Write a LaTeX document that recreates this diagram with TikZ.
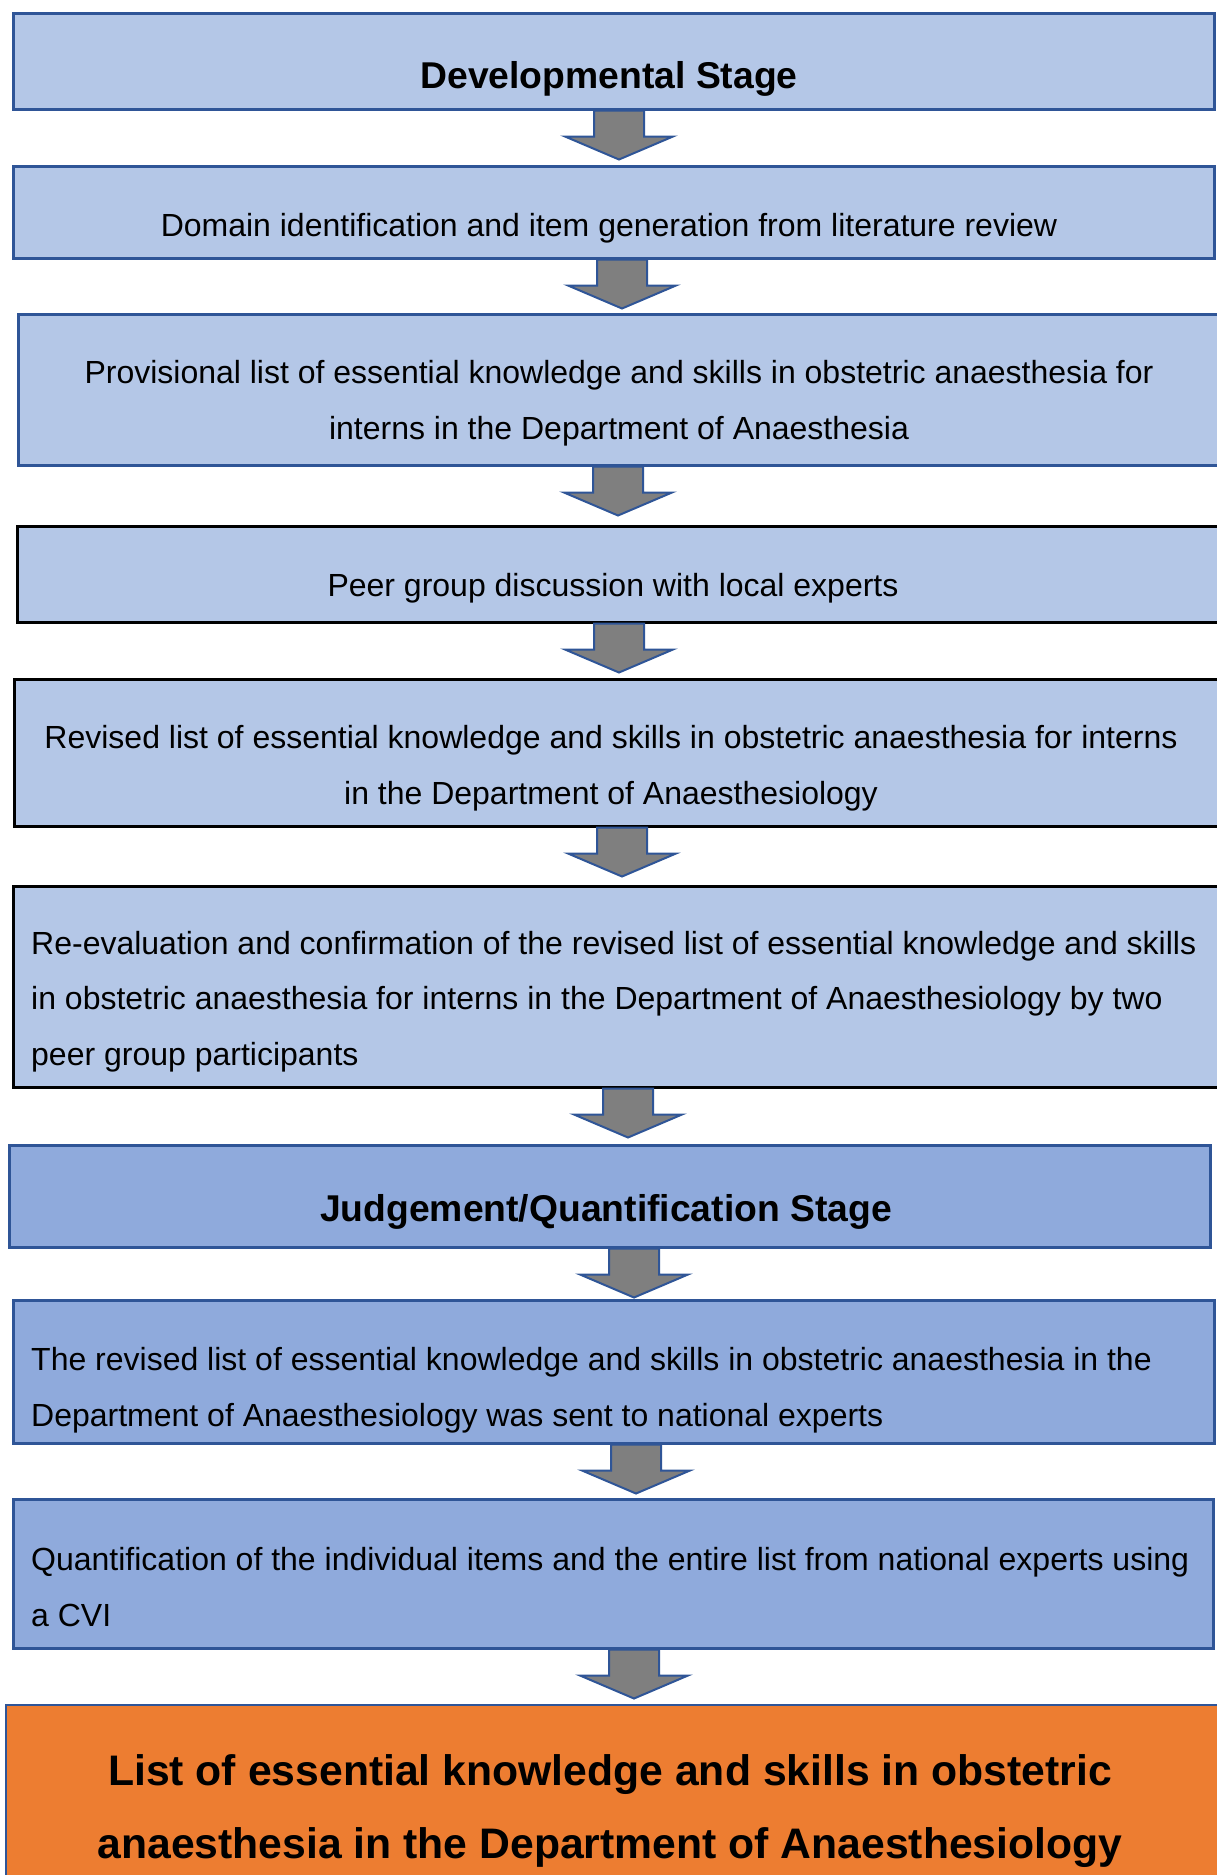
\documentclass[tikz,border=0pt]{standalone}
\usepackage{fontspec}
\setmainfont{Liberation Sans}
\usetikzlibrary{calc}
\definecolor{boxblue}{HTML}{B4C7E7}
\definecolor{stageblue}{HTML}{8FAADC}
\definecolor{edgeblue}{HTML}{2F5597}
\definecolor{resultorange}{HTML}{ED7D31}
\definecolor{arrowgray}{HTML}{7F7F7F}
\begin{document}
\begin{tikzpicture}[x=1pt,y=-1pt,
  box/.style={rectangle,draw=edgeblue,line width=2.5pt,fill=boxblue,anchor=north west,inner sep=0pt},
  blackbox/.style={box,draw=black},
  stagebox/.style={box,fill=stageblue},
  resultbox/.style={box,fill=resultorange,line width=1.5pt},
  txt/.style={inner sep=0pt,anchor=base,font=\fontsize{32}{55.5}\selectfont},
  lefttxt/.style={txt,anchor=base west,align=left},
  headtxt/.style={txt,font=\bfseries\fontsize{37.3}{55}\selectfont},
  resulttxt/.style={txt,align=center,font=\bfseries\fontsize{42.7}{73}\selectfont},
  downarrow/.style={draw=edgeblue,line width=2pt,fill=arrowgray,line join=miter}]
\useasboundingbox (0,0) rectangle (1217,1875);
\clip (0,0) rectangle (1217,1875);
\fill[white] (0,0) rectangle (1217,1875);
% boxes
\node[box,minimum width=1201,minimum height=96] (dev) at (12,12) {};
\node[box,minimum width=1201,minimum height=92] (dom) at (12,165) {};
\node[box,minimum width=1210,minimum height=151] (prov) at (17,313) {};
\node[blackbox,minimum width=1210,minimum height=96] (peer) at (16,525) {};
\node[blackbox,minimum width=1210,minimum height=147] (rev) at (13,678) {};
\node[blackbox,minimum width=1210,minimum height=201] (reeval) at (12,885) {};
\node[stagebox,minimum width=1201,minimum height=102] (judg) at (8,1144) {};
\node[stagebox,minimum width=1201,minimum height=143] (sent) at (12,1299) {};
\node[stagebox,minimum width=1200,minimum height=149] (quant) at (12,1498) {};
\node[resultbox,minimum width=1220,minimum height=200] (final) at (5,1704) {};
% texts (multi-line nodes sit on their last line)
\node[headtxt] (devtxt) at (609,88) {Developmental Stage};
\node[txt] (domtxt) at (609,236) {Domain identification and item generation from literature review};
\node[txt,align=center] (provtxt) at (619,439) {Provisional list of essential knowledge and skills in obstetric anaesthesia for\\interns in the Department of Anaesthesia};
\node[txt] (peertxt) at (613,596) {Peer group discussion with local experts};
\node[txt,align=center] (revtxt) at (611,804) {Revised list of essential knowledge and skills in obstetric anaesthesia for interns\\in the Department of Anaesthesiology};
\node[lefttxt] (reevaltxt) at (31,1065) {Re-evaluation and confirmation of the revised list of essential knowledge and skills\\in obstetric anaesthesia for interns in the Department of Anaesthesiology by two\\peer group participants};
\node[headtxt] (judgtxt) at (606,1221) {Judgement/Quantification Stage};
\node[lefttxt] (senttxt) at (31,1426) {The revised list of essential knowledge and skills in obstetric anaesthesia in the\\Department of Anaesthesiology was sent to national experts};
\node[lefttxt] (quanttxt) at (31,1626) {Quantification of the individual items and the entire list from national experts using\\a CVI};
\node[resulttxt] (finaltxt) at (610,1858) {List of essential knowledge and skills in obstetric\\anaesthesia in the Department of Anaesthesiology};
% arrows
\foreach \a/\b/\x in {dev/dom/619,dom/prov/622,prov/peer/618,peer/rev/619,rev/reeval/622,
  reeval/judg/628,judg/sent/634,sent/quant/636,quant/final/634}{
  \coordinate (ax) at (\x,0);
  \draw[downarrow] (\a.south -| ax) ++(-25,0) -- ++(0,26) -- ++(-29,0) -- ++(54,23)
    -- ++(54,-23) -- ++(-29,0) -- ++(0,-26) -- cycle;
}
\end{tikzpicture}
\end{document}
